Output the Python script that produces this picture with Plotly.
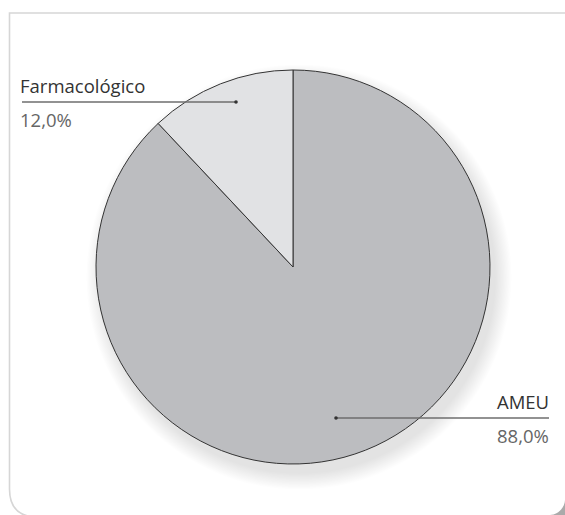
import plotly.graph_objects as go

labels = ["AMEU", "Farmacológico"]
values = [88.0, 12.0]
colors = ["#bcbdc0", "#e1e2e4"]

W, H = 565, 515

def px(x):
    return x / W

def py(y):
    return 1 - y / H

# pie geometry (pixels)
cx, cy, r = 293, 267, 197

fig = go.Figure()
fig.add_trace(go.Pie(
    labels=labels, values=values, sort=False, direction="clockwise",
    rotation=0, textinfo="none", hoverinfo="label+percent",
    marker=dict(colors=colors, line=dict(color="#333333", width=1)),
    domain=dict(x=[px(cx - r), px(cx + r)], y=[py(cy + r), py(cy - r)]),
    showlegend=False,
))

shapes = []
# soft shadow under pie
for k in range(14):
    rr = r + k * 1.2
    ox, oy = 6, 10
    shapes.append(dict(type="circle", xref="paper", yref="paper", layer="below",
                       x0=px(cx + ox - rr), x1=px(cx + ox + rr),
                       y0=py(cy + oy + rr), y1=py(cy + oy - rr),
                       fillcolor="rgba(0,0,0,0.009)", line=dict(width=0)))

# card frame
L, T, R, B, rad = 9.5, 13, 600, 517, 28
path = (f"M {px(L)},{py(T)} L {px(R)},{py(T)} L {px(R)},{py(B)} "
        f"L {px(L+rad)},{py(B)} "
        f"Q {px(L)},{py(B)} {px(L)},{py(B-rad)} Z")
shapes.append(dict(type="path", xref="paper", yref="paper", layer="below", path=path,
                   line=dict(color="#d6d6d6", width=1.6), fillcolor="rgba(0,0,0,0)"))
# card shadow at bottom-right corner
cr = 15
corner = (f"M {px(W-cr)},{py(H)} Q {px(W)},{py(H)} {px(W)},{py(H-cr)} "
          f"L {px(W)},{py(H)} Z")
corner = (f"M {px(W-cr)},{py(H)} "
          f"C {px(W-cr+cr*0.55)},{py(H)} {px(W)},{py(H-cr+cr*0.45)} {px(W)},{py(H-cr)} "
          f"L {px(W+2)},{py(H-cr)} L {px(W+2)},{py(H+2)} L {px(W-cr)},{py(H+2)} Z")
shapes.append(dict(type="path", xref="paper", yref="paper", layer="below", path=corner,
                   line=dict(width=0), fillcolor="#aaaaaa"))

# label leader lines (pixel layout of the labels)
label_layout = {
    "Farmacológico": dict(x0=22, x1=236, y=102, dot=236, align="left"),
    "AMEU": dict(x0=336, x1=549, y=418, dot=336, align="right"),
}
annotations = []
for lab, val in zip(labels, values):
    lay = label_layout[lab]
    shapes.append(dict(type="line", xref="paper", yref="paper",
                       x0=px(lay["x0"]), x1=px(lay["x1"]), y0=py(lay["y"]), y1=py(lay["y"]),
                       line=dict(color="#6e6e6e", width=1.6)))
    d = 1.8
    shapes.append(dict(type="circle", xref="paper", yref="paper",
                       x0=px(lay["dot"] - d), x1=px(lay["dot"] + d),
                       y0=py(lay["y"] + d), y1=py(lay["y"] - d),
                       fillcolor="#333333", line=dict(width=0)))
    if lay["align"] == "left":
        ax, xanchor = px(18), "left"
    else:
        ax, xanchor = px(551), "right"
    annotations.append(dict(x=ax, y=py(lay["y"] - 2), xref="paper", yref="paper",
                            xanchor=xanchor, yanchor="bottom", showarrow=False,
                            text=lab, font=dict(size=18.5, color="#333333",
                                                family="Open Sans")))
    annotations.append(dict(x=ax, y=py(lay["y"] + 3), xref="paper", yref="paper",
                            xanchor=xanchor, yanchor="top", showarrow=False,
                            text=f"{val:.1f}%".replace(".", ","),
                            font=dict(size=18.5, color="#666666", family="Open Sans")))

fig.update_layout(
    width=W, height=H, margin=dict(l=0, r=0, t=0, b=0),
    paper_bgcolor="white", plot_bgcolor="white",
    shapes=shapes, annotations=annotations,
)

fig.write_html("out.html", config={"displayModeBar": False},
               post_script="document.body.style.margin='0px';")
